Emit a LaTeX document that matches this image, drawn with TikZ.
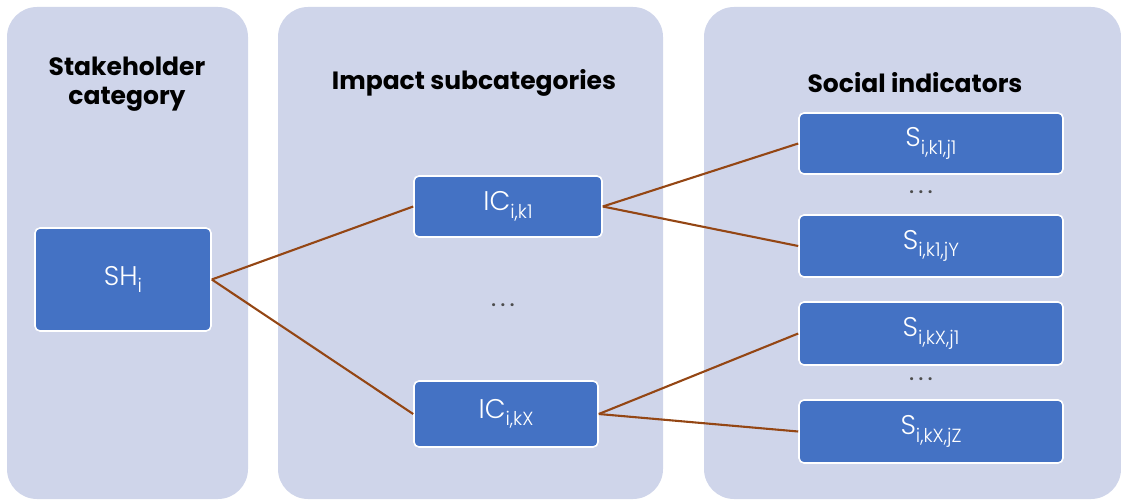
\documentclass[tikz,border=0pt]{standalone}
\usepackage{fontspec}
\setmainfont{Poppins}[UprightFont=* Light]
\newfontfamily\titlefont{Poppins}[UprightFont=* Bold]
\newfontfamily\dotfont{Poppins}[UprightFont=* SemiBold]
\newcommand\lowsub[1]{\raisebox{-0.28em}{\fontsize{19}{19}\selectfont #1}}
\newcommand\spaceddots{.\kern4.5pt.\kern4.5pt.}
\definecolor{panelfill}{RGB}{207,213,234}
\definecolor{boxfill}{RGB}{68,114,196}
\definecolor{linkcol}{RGB}{148,70,20}
\tikzset{
  panel/.style={fill=panelfill, draw=none, rounded corners=30pt},
  itembox/.style={fill=boxfill, draw=white, line width=1.6pt, rounded corners=5pt,
    text=white, font=\fontsize{27}{27}\selectfont, inner sep=0pt},
  heading/.style={font=\titlefont\fontsize{25}{29}\selectfont, align=center, text=black},
  dotsnode/.style={font=\dotfont\fontsize{18}{18}\selectfont, text=black!70},
  link/.style={draw=linkcol, line width=2.1pt}
}
\begin{document}
\begin{tikzpicture}[x=1pt,y=-1pt]
\useasboundingbox (0,0) rectangle (1121,500);
% column panels
\fill[panel] (7,7) rectangle (248,499);
\fill[panel] (278,7) rectangle (663,499);
\fill[panel] (704,7) rectangle (1121,499);
% headings
\node[heading] (h1) at (127,84) {Stakeholder\\category};
\node[heading] (h2) at (474,83) {Impact subcategories};
\node[heading] (h3) at (915,83) {Social indicators};
% boxes
\node[itembox, minimum width=176pt, minimum height=103pt] (sh) at (123,279.5) {SH\lowsub{i}};
\node[itembox, minimum width=188pt, minimum height=61pt] (ic1) at (508,206.5) {IC\lowsub{i,k1}};
\node[itembox, minimum width=184pt, minimum height=66pt] (icx) at (506,414) {IC\lowsub{i,kX}};
\node[itembox, minimum width=264pt, minimum height=61pt] (s1) at (931,143.5) {S\lowsub{i,k1,j1}};
\node[itembox, minimum width=264pt, minimum height=62pt] (sy) at (931,246) {S\lowsub{i,k1,jY}};
\node[itembox, minimum width=264pt, minimum height=63pt] (sx1) at (931,333.5) {S\lowsub{i,kX,j1}};
\node[itembox, minimum width=264pt, minimum height=63pt] (sz) at (931,431.5) {S\lowsub{i,kX,jZ}};
% ellipses
\node[dotsnode] (d1) at (503,305) {\spaceddots};
\node[dotsnode] (d2) at (921,192) {\spaceddots};
\node[dotsnode] (d3) at (921,379) {\spaceddots};
% connectors
\draw[link] (sh.east) -- (ic1.west);
\draw[link] (sh.east) -- (icx.west);
\draw[link] (ic1.east) -- (s1.west);
\draw[link] (ic1.east) -- (sy.west);
\draw[link] (icx.east) -- (sx1.west);
\draw[link] (icx.east) -- (sz.west);
\end{tikzpicture}
\end{document}
